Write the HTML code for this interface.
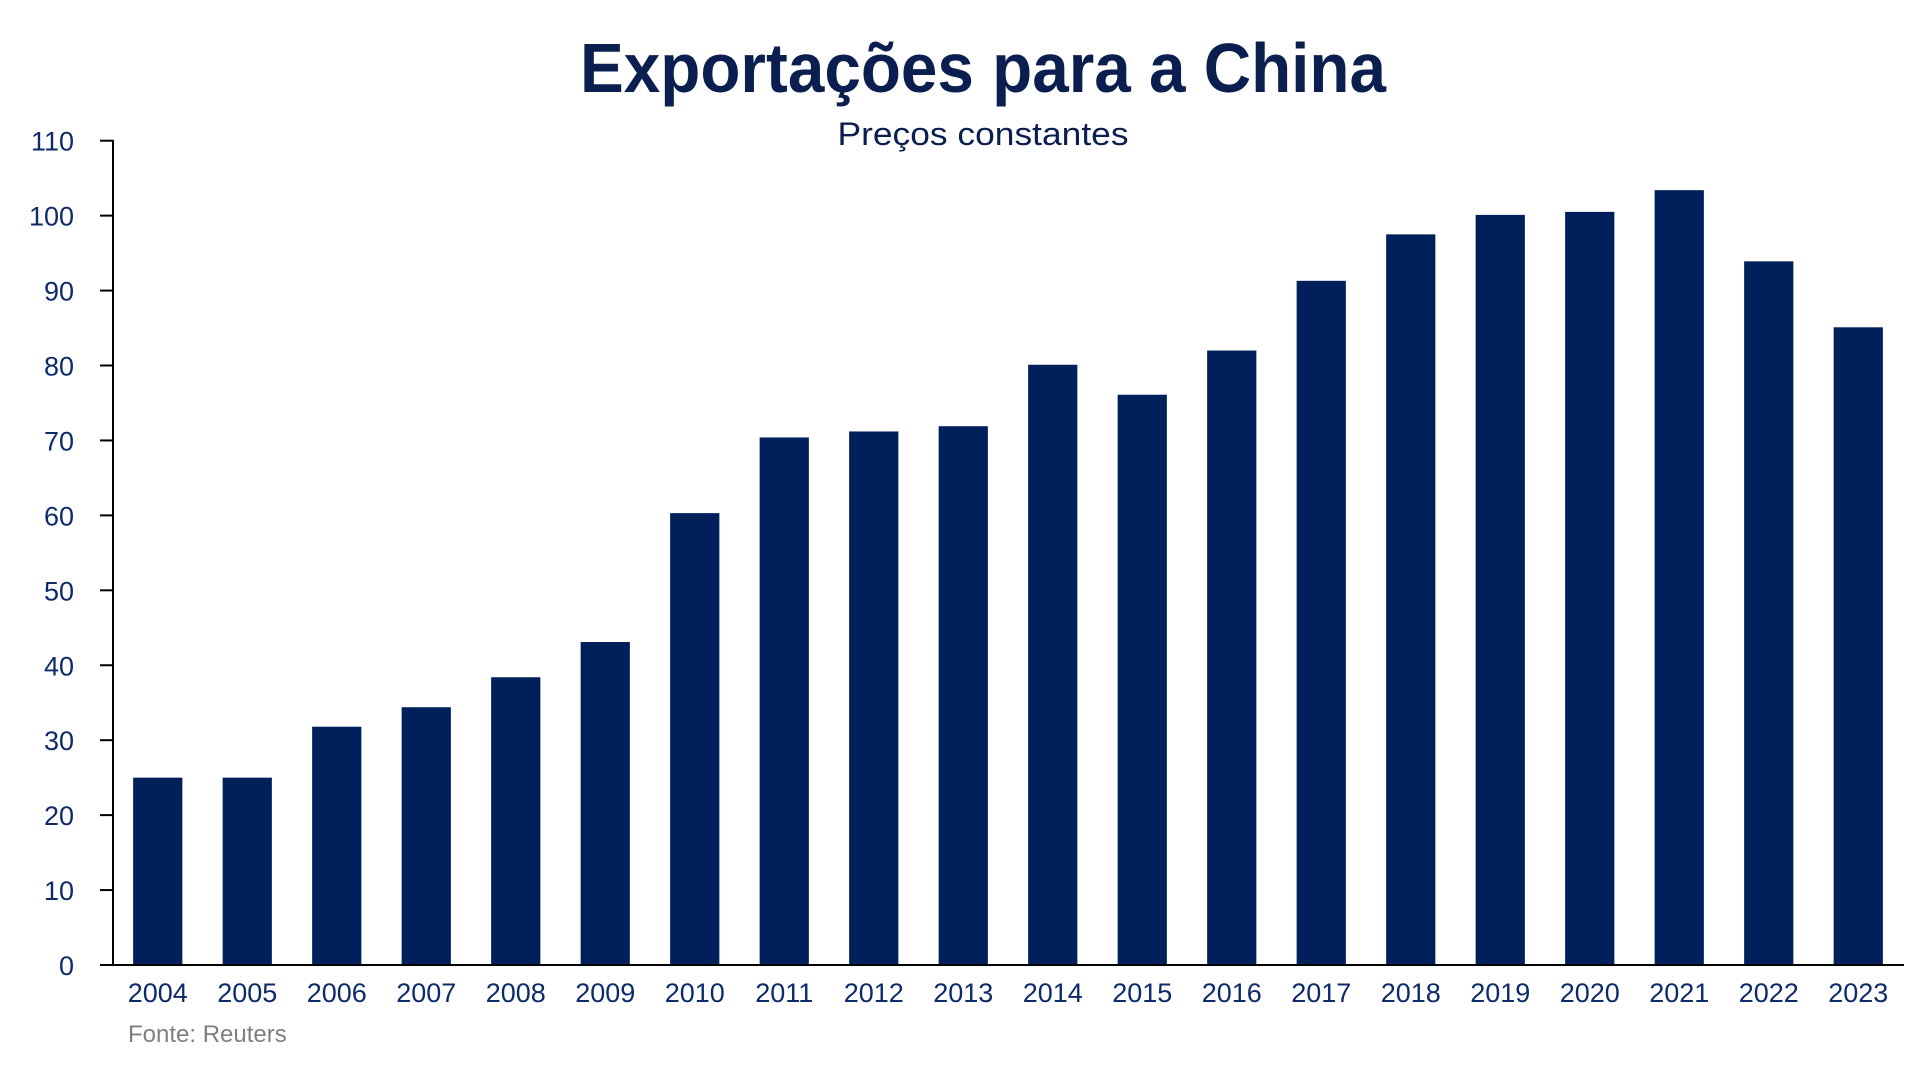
<!DOCTYPE html>
<html><head><meta charset="utf-8"><style>
html,body{margin:0;padding:0;background:#fff;}
svg{display:block;font-family:"Liberation Sans",sans-serif;}
</style></head><body>
<svg id="chart" width="1918" height="1070" viewBox="0 0 1918 1070" xmlns="http://www.w3.org/2000/svg">
<text x="983" y="92" text-anchor="middle" font-size="70" font-weight="bold" fill="#0a1f4f" textLength="806" lengthAdjust="spacingAndGlyphs">Exportações para a China</text>
<text x="983" y="145" text-anchor="middle" font-size="32" fill="#0a1f4f" textLength="291" lengthAdjust="spacingAndGlyphs">Preços constantes</text>
<g id="yticks"></g>
<g id="bars"></g>
<g id="xlabels"></g>
<line x1="113" y1="140" x2="113" y2="965" stroke="#000" stroke-width="2"/>
<line x1="112" y1="965" x2="1904" y2="965" stroke="#000" stroke-width="2"/>
<text x="128" y="1042" font-size="24" fill="#7f7f7f">Fonte: Reuters</text>
</svg>
<script>
const categories = ["2004","2005","2006","2007","2008","2009","2010","2011","2012","2013","2014","2015","2016","2017","2018","2019","2020","2021","2022","2023"];
const values = [25,25,31.8,34.4,38.4,43.1,60.3,70.4,71.2,71.9,80.1,76.1,82,91.3,97.5,100.1,100.5,103.4,93.9,85.1];
const yTicks = [0,10,20,30,40,50,60,70,80,90,100,110];

const NS = "http://www.w3.org/2000/svg";
const x0 = 113, x1 = 1903, yBase = 965, yTop = 140.7, yMax = 110;
const band = (x1 - x0) / categories.length;
const barW = band * 0.55;
function yScale(v){ return yBase - (v / yMax) * (yBase - yTop); }
function xCenter(i){ return x0 + band * (i + 0.5); }

const gy = document.getElementById('yticks');
yTicks.forEach(t => {
  const y = yScale(t);
  const ln = document.createElementNS(NS,'line');
  
  
  ln.setAttribute('x1', 100); ln.setAttribute('x2', 113);
  ln.setAttribute('y1', y); ln.setAttribute('y2', y);
  ln.setAttribute('stroke', '#000'); ln.setAttribute('stroke-width', 2);
  gy.appendChild(ln);
  const tx = document.createElementNS(NS,'text');
  
  
  tx.setAttribute('x', 74); tx.setAttribute('y', y + 10);
  tx.setAttribute('text-anchor', 'end');
  tx.setAttribute('font-size', '27'); tx.setAttribute('fill', '#0d2b6b');
  tx.textContent = t;
  gy.appendChild(tx);
});

const gb = document.getElementById('bars');
const gx = document.getElementById('xlabels');
categories.forEach((c, i) => {
  const r = document.createElementNS(NS,'rect');
  
  
  const y = yScale(values[i]);
  r.setAttribute('x', xCenter(i) - barW / 2);
  r.setAttribute('y', y);
  r.setAttribute('width', barW);
  r.setAttribute('height', yBase - y);
  r.setAttribute('fill', '#00205b');
  gb.appendChild(r);
  const tx = document.createElementNS(NS,'text');
  
  
  tx.setAttribute('x', xCenter(i)); tx.setAttribute('y', 1002);
  tx.setAttribute('text-anchor', 'middle');
  tx.setAttribute('font-size', '27'); tx.setAttribute('fill', '#0d2b6b');
  tx.textContent = c;
  gx.appendChild(tx);
});
</script>
</body></html>
